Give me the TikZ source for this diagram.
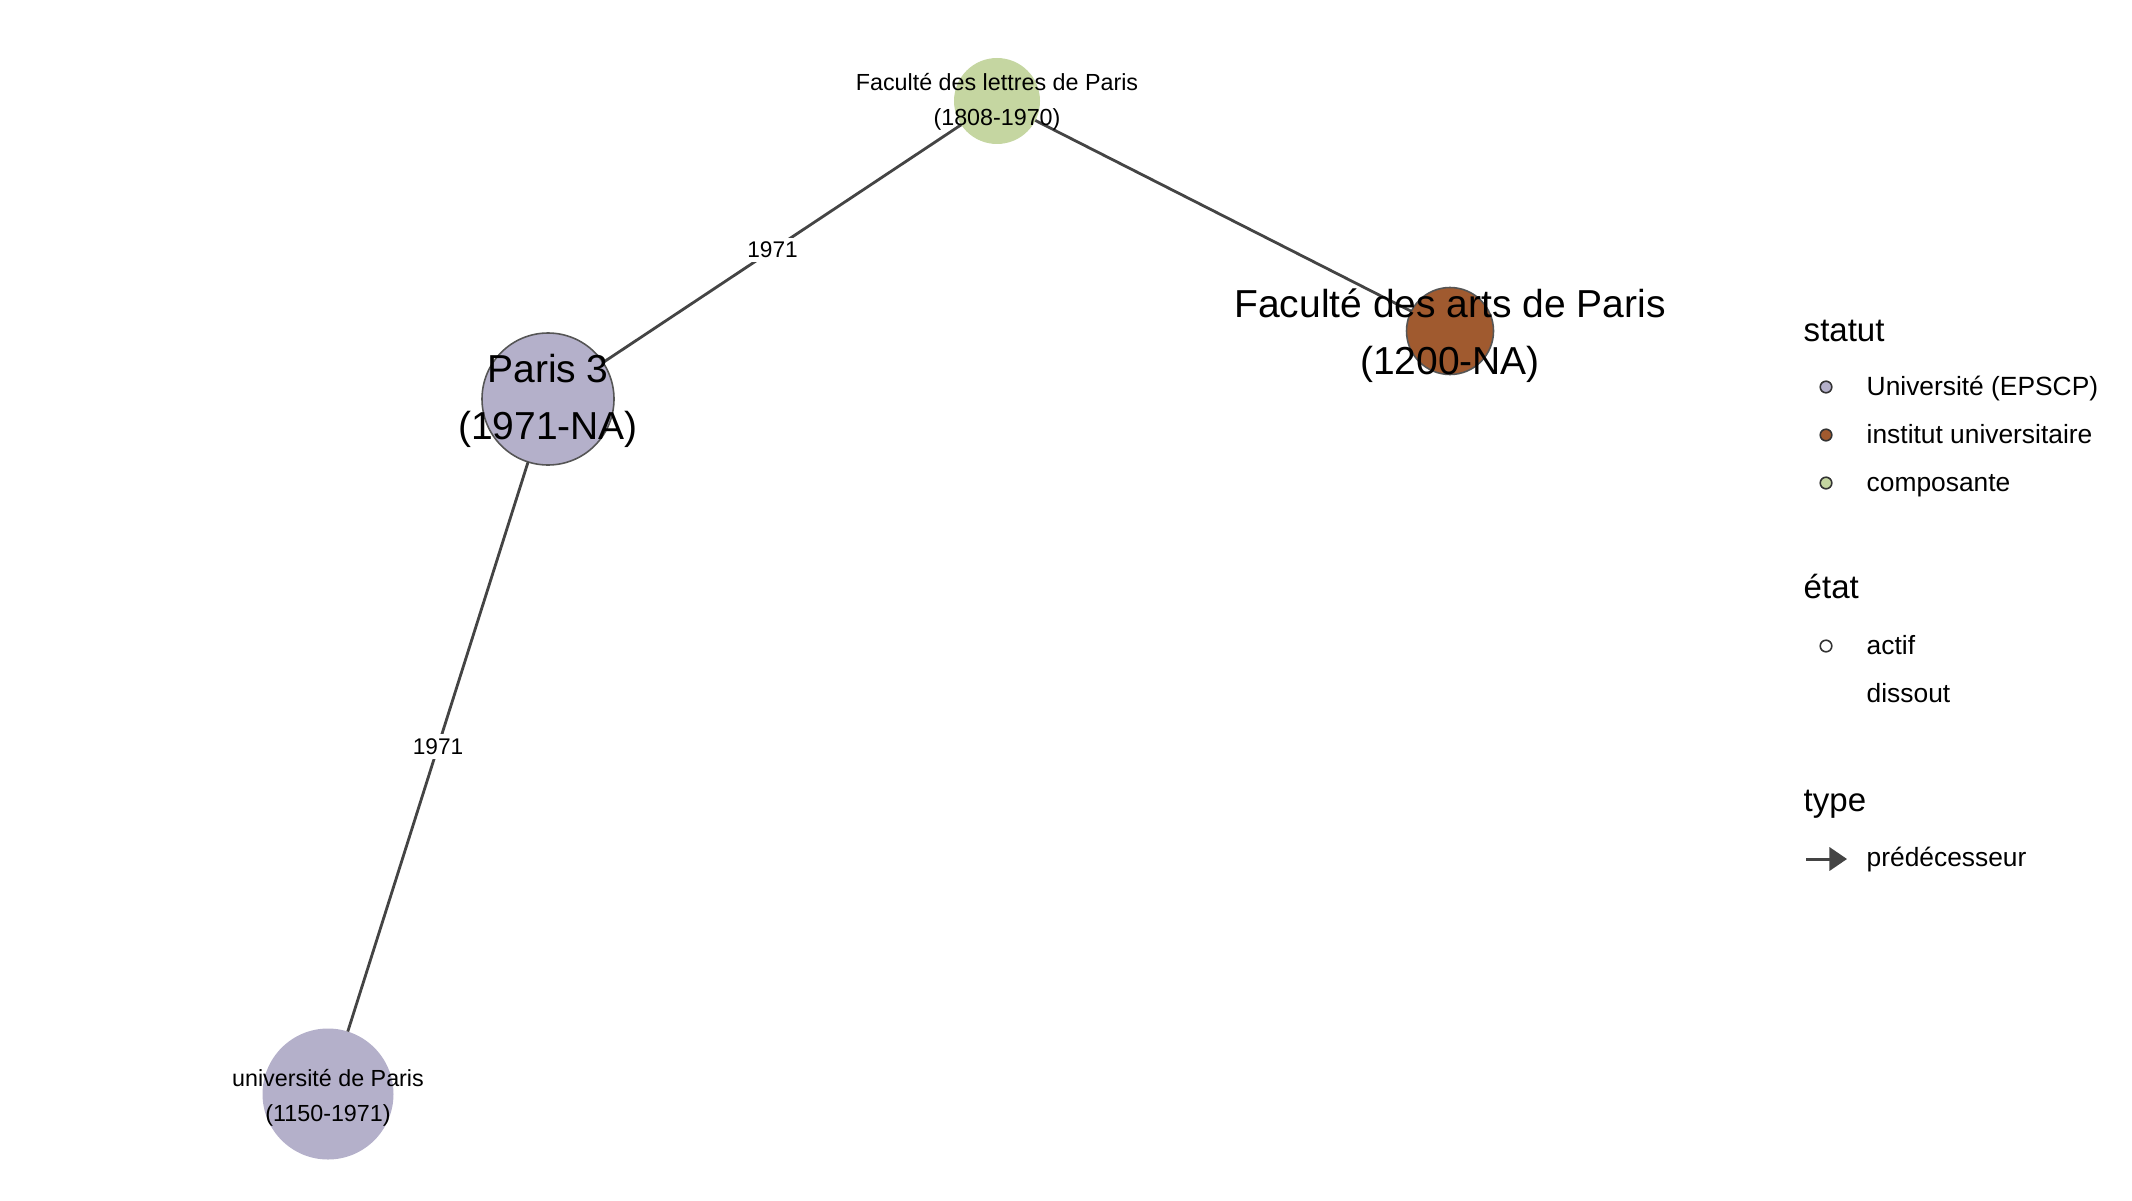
\documentclass[tikz,border=0pt]{standalone}
\usepackage{fontspec}
\setmainfont{Liberation Sans}
\usetikzlibrary{arrows.meta,calc}
\definecolor{lav}{HTML}{B4B0CA}
\definecolor{brn}{HTML}{A05A2F}
\definecolor{grn}{HTML}{C5D6A1}
\definecolor{edgec}{HTML}{444444}
\definecolor{bord}{HTML}{555555}
\tikzset{
  vnode/.style={circle, inner sep=0pt, outer sep=0pt},
  actif/.style={draw=bord, line width=0.45pt},
  smalllab/.style={align=center, inner sep=0pt, font=\fontsize{6.63}{9.96}\selectfont},
  biglab/.style={align=center, inner sep=0pt, font=\fontsize{11.1}{16.2}\selectfont},
  edgelab/.style={fill=white, inner sep=1.2pt, font=\fontsize{6.45}{7.5}\selectfont},
  link/.style={draw=edgec, line width=0.8pt},
  legtitle/.style={anchor=base west, inner sep=0pt, font=\fontsize{9.4}{11}\selectfont},
  legitem/.style={anchor=base west, inner sep=0pt, font=\fontsize{7.5}{9}\selectfont},
  legdot/.style={circle, draw=black!80, line width=0.45pt, minimum size=3.3pt, inner sep=0pt},
}
\begin{document}
\begin{tikzpicture}[x=0.1mm, y=-0.1mm]
\useasboundingbox (0,0) rectangle (2132,1200);
% nodes (circles)
\node[vnode, fill=grn, minimum size=8.6mm] (lettres) at (997,101) {};
\node[vnode, actif, fill=lav, minimum size=13.2mm] (paris3) at (548,399) {};
\node[vnode, actif, fill=brn, minimum size=8.7mm] (arts) at (1450,331) {};
\node[vnode, fill=lav, minimum size=13.1mm] (univ) at (328,1094) {};
% edges
\draw[link] (lettres) -- (paris3);
\draw[link] (lettres) -- (arts);
\draw[link] (paris3) -- (univ);
\node[edgelab] (e1) at ($(lettres.center)!0.5!(paris3.center)$) {1971};
\node[edgelab] (e2) at ($(paris3.center)!0.5!(univ.center)$) {1971};
% labels
\node[smalllab] (lettreslab) at (997,102) {Faculté des lettres de Paris\\(1808-1970)};
\node[biglab] (paris3lab) at (548,401) {Paris 3\\(1971-NA)};
\node[biglab] (artslab) at (1450,336) {Faculté des arts de Paris\\(1200-NA)};
\node[smalllab] (univlab) at (328,1098) {université de Paris\\(1150-1971)};
% legend
\node[legtitle] (tstatut) at (1803,341) {statut};
\node[legdot, fill=lav] (d1) at (1826,387) {};
\node[legitem] (l1) at (1866,395) {Université (EPSCP)};
\node[legdot, fill=brn] (d2) at (1826,435) {};
\node[legitem] (l2) at (1866,443) {institut universitaire};
\node[legdot, fill=grn] (d3) at (1826,483) {};
\node[legitem] (l3) at (1866,491) {composante};
\node[legtitle] (tetat) at (1803,598) {état};
\node[legdot, fill=white] (d4) at (1826,646) {};
\node[legitem] (l4) at (1866,654) {actif};
\node[legitem] (l5) at (1866,702) {dissout};
\node[legtitle] (ttype) at (1803,811) {type};
\coordinate (a1) at (1806,859);
\coordinate (a2) at (1847,859);
\draw[draw=edgec, line width=0.85pt, -{Triangle[length=5pt,width=6.6pt]}] (a1) -- (a2);
\node[legitem] (l6) at (1866,866) {prédécesseur};
\end{tikzpicture}
\end{document}
